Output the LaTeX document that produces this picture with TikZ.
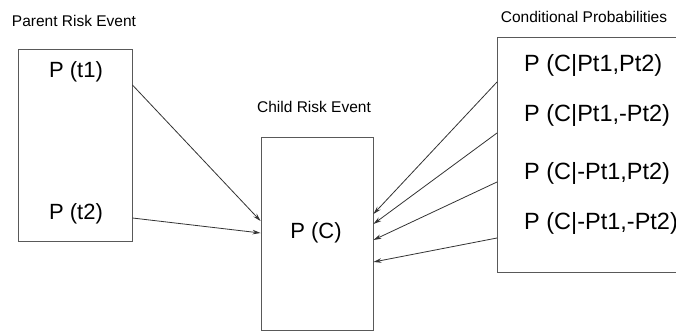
\documentclass[tikz,border=0pt]{standalone}
\usepackage{fontspec}
\setmainfont{Liberation Sans}
\usetikzlibrary{arrows.meta}
\begin{document}
\begin{tikzpicture}[x=1pt,y=-1pt,
  box/.style={draw=black!65,line width=0.9pt,rectangle,inner sep=0pt},
  big/.style={font=\fontsize{22}{26}\selectfont,inner sep=0pt},
  bigr/.style={font=\fontsize{23.5}{28}\selectfont,inner sep=0pt,anchor=west},
  small/.style={font=\fontsize{15.5}{18}\selectfont,inner sep=0pt},
  conn/.style={draw=black!80,line width=0.8pt,-{Stealth[length=8pt,width=4.5pt]}}]
\useasboundingbox (0,0) rectangle (676,331);
% boxes
\node[box,minimum width=114pt,minimum height=192pt] (lbox) at (75,145) {};
\node[box,minimum width=112pt,minimum height=193pt] (cbox) at (317,233.5) {};
\draw[draw=black!65,line width=0.9pt] (497,37) rectangle (700,272);
\coordinate (rtl) at (497,37);
% titles
\node[small] (tp) at (74,21) {Parent Risk Event};
\node[small] (tc) at (314,107) {Child Risk Event};
\node[small] (tr) at (584,17) {Conditional Probabilities};
% texts
\node[big] (t1) at (76,72) {P (t1)};
\node[big] (t2) at (76,214) {P (t2)};
\node[big] (pc) at (316,233) {P (C)};
\node[bigr] (r1) at (524,65) {P (C|Pt1,Pt2)};
\node[bigr] (r2) at (524,115) {P (C|Pt1,-Pt2)};
\node[bigr] (r3) at (524,173) {P (C|-Pt1,Pt2)};
\node[bigr] (r4) at (524,223) {P (C|-Pt1,-Pt2)};
% edge points
\coordinate (a1) at (lbox.east |- 0,85);
\coordinate (a2) at (lbox.east |- 0,218);
\coordinate (b1) at (cbox.west |- 0,221);
\coordinate (b2) at (cbox.west |- 0,233);
\coordinate (s1) at (rtl |- 0,82);
\coordinate (s2) at (rtl |- 0,133);
\coordinate (s3) at (rtl |- 0,182);
\coordinate (s4) at (rtl |- 0,238);
\coordinate (e1) at (cbox.east |- 0,214);
\coordinate (e2) at (cbox.east |- 0,224);
\coordinate (e3) at (cbox.east |- 0,240);
\coordinate (e4) at (cbox.east |- 0,262);
% connectors
\draw[conn] (a1) -- (b1);
\draw[conn] (a2) -- (b2);
\draw[conn] (s1) -- (e1);
\draw[conn] (s2) -- (e2);
\draw[conn] (s3) -- (e3);
\draw[conn] (s4) -- (e4);
\end{tikzpicture}
\end{document}
